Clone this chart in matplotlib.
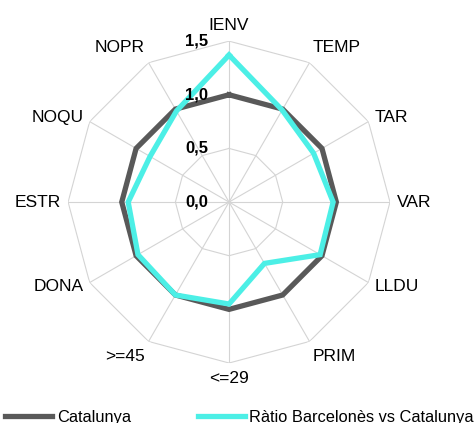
import numpy as np
import matplotlib
matplotlib.use('Agg')
import matplotlib.pyplot as plt

# categories clockwise from the top
cats = ['IENV', 'TEMP', 'TAR', 'VAR', 'LLDU', 'PRIM', '<=29', '>=45',
        'DONA', 'ESTR', 'NOQU', 'NOPR']
catalunya = [1.0, 1.0, 1.0, 1.0, 1.0, 1.0, 1.0, 1.0, 1.0, 1.0, 1.0, 1.0]
ratio_bcn = [1.37, 0.99, 0.91, 0.97, 0.98, 0.66, 0.95, 1.0, 0.98, 0.94, 0.85, 0.98]
rings = [0.0, 0.5, 1.0, 1.5]
ring_labels = ['0,0', '0,5', '1,0', '1,5']

plt.rcParams['font.family'] = ['Liberation Sans', 'DejaVu Sans']

fig = plt.figure(figsize=(4.75, 4.23), dpi=100)
ax = fig.add_axes([0.1432, 0.1418, 0.678, 0.761], projection='polar')
ax.set_theta_zero_location('N')
ax.set_theta_direction(-1)
ax.set_ylim(0, 1.5)
ax.set_xticks([])
ax.set_yticks([])
ax.grid(False)
ax.spines['polar'].set_visible(False)
ax.patch.set_alpha(0)

n = len(cats)
th = np.arange(n) * 2 * np.pi / n
th_c = np.append(th, th[0])

# spider web grid
gc = '#d4d4d4'
for r in rings[1:]:
    ax.plot(th_c, [r] * (n + 1), color=gc, lw=0.8, zorder=1)
for t in th:
    ax.plot([t, t], [0, rings[-1]], color=gc, lw=0.8, zorder=1)

# series
ax.plot(th_c, catalunya + catalunya[:1], color='#595959', lw=3.8,
        solid_joinstyle='miter', zorder=3, label='Catalunya')
ax.plot(th_c, ratio_bcn + ratio_bcn[:1], color='#4CEFE6', lw=3.8,
        solid_joinstyle='miter', zorder=4, label='Ràtio Barcelonès vs Catalunya')

# radial tick labels
for r, lab in zip(rings, ring_labels):
    ax.annotate(lab, xy=(0, r), xytext=(-15, 0), textcoords='offset points',
                ha='right', va='center', fontsize=12, fontweight='bold', zorder=5)

# category labels
for t, lab in zip(th, cats):
    s, c = np.sin(t), np.cos(t)
    ha = 'center' if abs(s) < 0.1 else ('left' if s > 0 else 'right')
    if c > 0.6:
        va = 'bottom'
    elif c < -0.6:
        va = 'top'
    else:
        va = 'center'
    ax.annotate(lab, xy=(t, 1.5), xytext=(5 * s, 6 * c), textcoords='offset points',
                ha=ha, va=va, fontsize=12.5, annotation_clip=False)

fig.legend(loc='center left', bbox_to_anchor=(5 / 475, 1 - 417 / 423), ncol=2,
           frameon=False, fontsize=11.8, handlelength=2.85, handletextpad=0.3,
           columnspacing=4.1, borderpad=0, borderaxespad=0)

fig.savefig('out.png', dpi=100)
